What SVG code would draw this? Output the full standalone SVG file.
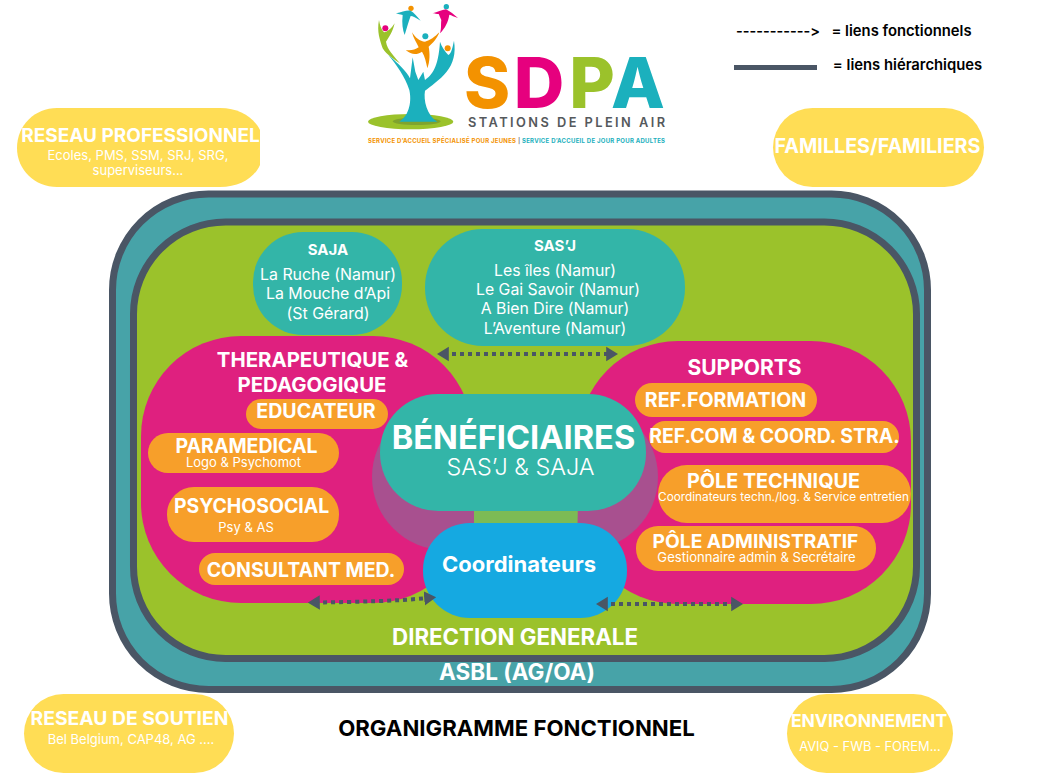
<svg xmlns="http://www.w3.org/2000/svg" width="1040" height="780" viewBox="0 0 1040 780">
<style>
text{font-family:Inter,"Liberation Sans",sans-serif;text-anchor:middle;fill:#fff;font-variant-ligatures:none;font-feature-settings:"calt" 0,"liga" 0}
.h{font-weight:700}
.s{font-weight:400}
.lab{font-weight:700;font-size:19.6px}
.blk{fill:#000;font-weight:600}
.or{fill:#F79F2A}
.ye{fill:#FFDD55}
.pk{fill:#DF207F}
.teal{fill:#33B5A8}
.big{font-weight:800;font-size:70px}
.lnk{fill:none;stroke:#4A5665;stroke-width:4;stroke-dasharray:4 4;marker-start:url(#a);marker-end:url(#a)}
</style>
<defs>
<marker id="a" viewBox="0 0 10 12" refX="4" refY="6" markerWidth="3" markerHeight="4" orient="auto-start-reverse"><path d="M0 0L10 6L0 12Z" fill="#4A5665"/></marker>
</defs>
<rect width="1040" height="780" fill="#fff"/>
<g id="logo">
<g transform="translate(350 0) scale(.3333)">
<ellipse cx="182" cy="365" rx="128" ry="23" fill="#9BC22B"/>
<ellipse cx="200" cy="364" rx="72" ry="11" fill="#7FA32E"/>
<path fill="#9BC22B" d="M87 60C90 75 92 85 102 97C112 96 125 85 134 70C128 95 118 110 108 125C112 150 130 165 150 190C135 180 110 165 98 145C90 120 80 95 87 60Z"/>
<path fill="#1BB0BD" d="M148 365C180 345 185 300 178 270C165 230 140 195 115 165C150 195 170 215 180 235L188 172L196 215L205 240L220 215L225 240C245 225 265 205 270 125C275 140 285 155 295 165C305 160 308 140 312 122C318 160 310 190 290 215C270 240 240 260 225 272C220 300 230 345 262 365Z"/>
<circle cx="106" cy="85" r="9" fill="#E6007E"/>
<circle cx="293" cy="145" r="9" fill="#F39200"/>
<circle cx="183" cy="25" r="8" fill="#F39200"/>
<path fill="#1BB0BD" d="M138 40C155 36 170 30 182 32C192 38 202 50 212 62C198 54 188 48 182 48C176 64 170 85 164 105C158 90 155 70 158 45C150 44 145 42 138 40Z"/>
<circle cx="289" cy="20" r="8" fill="#1BB0BD"/>
<path fill="#E6007E" d="M248 40C262 36 275 30 288 28C300 34 312 44 324 54C312 50 305 46 298 44C295 65 285 85 270 100C275 85 272 75 274 60C270 52 268 46 266 42C260 42 254 42 248 40Z"/>
<circle cx="226" cy="109" r="9" fill="#1BB0BD"/>
<path fill="#F39200" d="M186 97C195 112 210 125 225 125C240 122 255 110 268 97C262 115 248 130 236 140C240 160 240 185 232 205C228 185 225 170 216 155C200 165 185 165 167 150C182 152 195 150 206 142C200 128 190 115 186 97Z"/>
</g>
<text class="big" x="487" y="108" style="fill:#F39200">S</text>
<text class="big" x="539" y="108" style="fill:#E6007E">D</text>
<text class="big" x="592" y="108" style="fill:#9BC22B">P</text>
<text class="big" x="638" y="108" style="fill:#1BB0BD">A</text>
<text x="566.500" y="127" font-size="12.800" textLength="197" style="fill:#55595C;font-weight:600">STATIONS DE PLEIN AIR</text>
<text x="442" y="143" font-size="6" textLength="148" style="fill:#F39200;font-weight:700">SERVICE D’ACCUEIL SPÉCIALISÉ POUR JEUNES</text>
<text x="519" y="143" font-size="6" style="fill:#888;font-weight:700">|</text>
<text x="593.500" y="143" font-size="6" textLength="143" style="fill:#1BB0BD;font-weight:700">SERVICE D’ACCUEIL DE JOUR POUR ADULTES</text>
</g>
<g id="legend">
<text class="blk" x="778" y="36" font-size="14.500" textLength="84">-----------&gt;</text>
<text class="blk" x="901.500" y="36" font-size="14.800">= liens fonctionnels</text>
<rect x="734" y="65" width="83" height="5" fill="#4A5665"/>
<text class="blk" x="907.500" y="70" font-size="14.800">= liens hiérarchiques</text>
</g>
<g id="reseau-pro">
<path class="ye" d="M57 108H220C240 108 254 118 260 130V165C254 178 240 187 220 187H57C35 187 17 170 17 148C17 125 35 108 57 108Z"/>
<text class="h" x="140.500" y="142" font-size="19">RESEAU PROFESSIONNEL</text>
<text class="s" x="138" y="160" font-size="13">Ecoles, PMS, SSM, SRJ, SRG,</text>
<text class="s" x="138" y="175" font-size="13">superviseurs...</text>
</g>
<g id="familles">
<rect class="ye" x="773" y="108" width="211" height="79" rx="39.500"/>
<text class="h" x="877.500" y="153" font-size="19.700">FAMILLES/FAMILIERS</text>
</g>
<g id="asbl">
<rect x="112.500" y="194" width="815" height="495.500" rx="96" fill="#47A3A8" stroke="#4A5665" stroke-width="7"/>
<text class="h" x="517" y="680" font-size="22.500">ASBL (AG/OA)</text>
</g>
<g id="direction">
<rect x="133.500" y="222" width="783" height="436.500" rx="92" fill="#9BC22B" stroke="#4A5665" stroke-width="7"/>
<text class="h" x="515" y="645" font-size="22.300">DIRECTION GENERALE</text>
</g>
<g id="saja">
<rect class="teal" x="253" y="232" width="149" height="103" rx="50"/>
<text class="h" x="328" y="255" font-size="15">SAJA</text>
<text class="s" x="328" y="280" font-size="15.900">La Ruche (Namur)</text>
<text class="s" x="328" y="299" font-size="15.900">La Mouche d’Api</text>
<text class="s" x="328" y="319" font-size="15.900">(St Gérard)</text>
</g>
<g id="sasj">
<rect class="teal" x="425" y="229" width="260" height="117" rx="58"/>
<text class="h" x="555" y="251" font-size="15">SAS’J</text>
<text class="s" x="555" y="276" font-size="15.800">Les îles (Namur)</text>
<text class="s" x="558" y="295" font-size="15.800">Le Gai Savoir (Namur)</text>
<text class="s" x="555" y="314" font-size="15.800">A Bien Dire (Namur)</text>
<text class="s" x="555" y="334" font-size="15.800">L’Aventure (Namur)</text>
</g>
<g id="therapeutique">
<rect class="pk" x="141" y="336" width="332" height="267" rx="100"/>
<text class="h" x="312.500" y="367" font-size="20.400">THERAPEUTIQUE &amp;</text>
<text class="h" x="312" y="392" font-size="20.400">PEDAGOGIQUE</text>
</g>
<g id="supports">
<rect class="pk" x="578" y="341" width="333" height="263" rx="100"/>
<text class="h" x="744.500" y="375" font-size="21">SUPPORTS</text>
</g>
<g id="halo">
<rect x="372" y="404" width="286" height="146" rx="73" fill="#A8508F"/>
<path d="M474 500H578L577 550H474Z" fill="#7CBB55"/>
</g>
<g id="educateur"><rect class="or" x="246" y="399" width="142" height="30" rx="15"/><text class="lab" x="316" y="418">EDUCATEUR</text></g>
<g id="paramedical"><rect class="or" x="148" y="433" width="191" height="40" rx="20"/><text class="h" x="246.500" y="453" font-size="19.500">PARAMEDICAL</text><text class="s" x="243.500" y="467" font-size="13">Logo &amp; Psychomot</text></g>
<g id="psychosocial"><rect class="or" x="167" y="487" width="172" height="55" rx="27"/><text class="h" x="251.500" y="513" font-size="19.400">PSYCHOSOCIAL</text><text class="s" x="246" y="532" font-size="13">Psy &amp; AS</text></g>
<g id="consultant"><rect class="or" x="199" y="553" width="205" height="32" rx="16"/><text class="h" x="301" y="577" font-size="19.500">CONSULTANT MED.</text></g>
<g id="ref-formation"><rect class="or" x="635" y="383" width="182" height="34" rx="17"/><text class="lab" x="725.500" y="407">REF.FORMATION</text></g>
<g id="ref-com"><rect class="or" x="649" y="421" width="250" height="32" rx="16"/><text class="h" x="774.500" y="443" font-size="19.400">REF.COM &amp; COORD. STRA.</text></g>
<g id="pole-technique"><rect class="or" x="658" y="465" width="253" height="58" rx="29"/><text class="h" x="773.500" y="488" font-size="19.800">PÔLE TECHNIQUE</text><text class="s" x="783.500" y="501" font-size="11.800">Coordinateurs techn./log. &amp; Service entretien</text></g>
<g id="pole-admin"><rect class="or" x="636" y="526" width="240" height="45" rx="22"/><text class="h" x="755.500" y="548" font-size="19.200">PÔLE ADMINISTRATIF</text><text class="s" x="756.500" y="562" font-size="13.100">Gestionnaire admin &amp; Secrétaire</text></g>
<g id="beneficiaires">
<rect class="teal" x="380" y="394" width="266" height="117" rx="58"/>
<text class="h" x="513.500" y="449" font-size="32.600">BÉNÉFICIAIRES</text>
<text x="520.500" y="475" font-size="23.400" font-weight="300">SAS’J &amp; SAJA</text>
</g>
<g id="coordinateurs">
<rect x="423" y="523" width="204" height="95" rx="47" fill="#15A9E1"/>
<text class="h" x="519" y="572" font-size="22">Coordinateurs</text>
</g>
<g id="connectors">
<path class="lnk" d="M444 354H611"/>
<path class="lnk" d="M315 602.500C360 602 395 601 429 598"/>
<path class="lnk" d="M603 604H736"/>
</g>
<text class="h" x="516.500" y="736" font-size="22.200" style="fill:#000">ORGANIGRAMME FONCTIONNEL</text>
<g id="soutien">
<rect class="ye" x="24" y="694" width="210" height="79" rx="39.500"/>
<text class="h" x="129.500" y="725" font-size="19.300">RESEAU DE SOUTIEN</text>
<text class="s" x="131" y="744" font-size="13">Bel Belgium, CAP48, AG ....</text>
</g>
<g id="environnement">
<rect class="ye" x="787" y="694" width="166" height="79" rx="39.500"/>
<text class="h" x="869" y="727" font-size="17.500">ENVIRONNEMENT</text>
<text class="s" x="870" y="751" font-size="12.900">AVIQ - FWB - FOREM...</text>
</g>
</svg>
